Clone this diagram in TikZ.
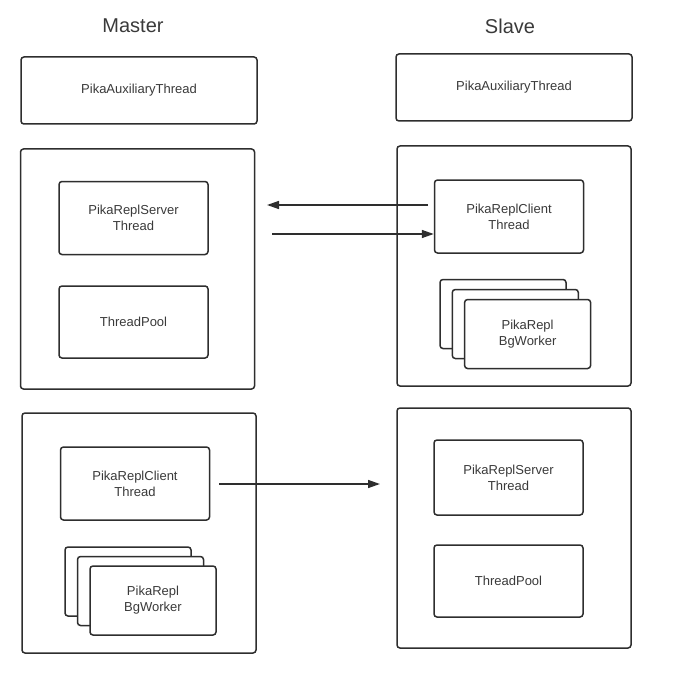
\documentclass[tikz,border=0pt]{standalone}
\usepackage{fontspec}
\setmainfont{Liberation Sans}
\usetikzlibrary{arrows.meta,positioning}
\definecolor{edgegray}{HTML}{2E2E2E}
\definecolor{txtgray}{HTML}{3A3A3A}

\begin{document}
\begin{tikzpicture}[x=1pt,y=-1pt,
	box/.style={draw=edgegray,line width=1.5pt,rounded corners=3pt,fill=white,text=txtgray,
		font=\fontsize{13}{16}\selectfont,align=center,inner sep=0pt},
	outer/.style={box,minimum width=234pt,minimum height=240pt},
	inner/.style={box,minimum width=149pt,minimum height=73pt},
	worker/.style={box,minimum width=126pt,minimum height=69pt},
	title/.style={text=txtgray,font=\fontsize{20}{24}\selectfont},
	link/.style={draw=edgegray,line width=1.5pt,-{Triangle[length=12pt,width=8pt]}}]
		\useasboundingbox (0,0) rectangle (676,687);

		% Master side
		\node[title] (master) at (133,26) {Master};
		\node[box,minimum width=236pt,minimum height=67pt] (auxM) at (139,90.5) {PikaAuxiliaryThread};
		\node[outer] (grpM1) at (137.5,269) {};
		\node[inner] (serverM) at (133.5,218) {PikaReplServer\\Thread};
		\node[inner,minimum height=72pt] (poolM) at (133.5,322) {ThreadPool};
		\node[outer] (grpM2) at (139,533) {};
		\node[inner] (clientM) at (135,483.5) {PikaReplClient\\Thread};
		\foreach \i/\t in {1/{},2/{},3/{PikaRepl\\BgWorker}}
			\node[worker] (wM\i) at ({128+12.5*(\i-1)},{581.5+9.5*(\i-1)}) {\t};

		% Slave side
		\node[title] (slave) at (510,26) {Slave};
		\node[box,minimum width=236pt,minimum height=67pt] (auxS) at (514,87.5) {PikaAuxiliaryThread};
		\node[outer] (grpS1) at (514,266) {};
		\node[inner] (clientS) at (509,216.5) {PikaReplClient\\Thread};
		\foreach \i/\t in {1/{},2/{},3/{PikaRepl\\BgWorker}}
			\node[worker] (wS\i) at ({503+12.3*(\i-1)},{314+10*(\i-1)}) {\t};
		\node[outer] (grpS2) at (514,528) {};
		\node[inner,minimum height=75pt] (serverS) at (508.5,477.5) {PikaReplServer\\Thread};
		\node[inner,minimum height=72pt] (poolS) at (508.5,581) {ThreadPool};

		% links
		\coordinate (reqS) at (428,205);
		\coordinate (reqM) at (267,205);
		\coordinate (ackM) at (272,234);
		\coordinate (syncM) at (219,484);
		\coordinate (syncS) at (380,484);
		\draw[link] (reqS) -- (reqM);
		\draw[link] (ackM) -- (ackM -| clientS.west);
		\draw[link] (syncM) -- (syncS);
	\end{tikzpicture}
\end{document}
